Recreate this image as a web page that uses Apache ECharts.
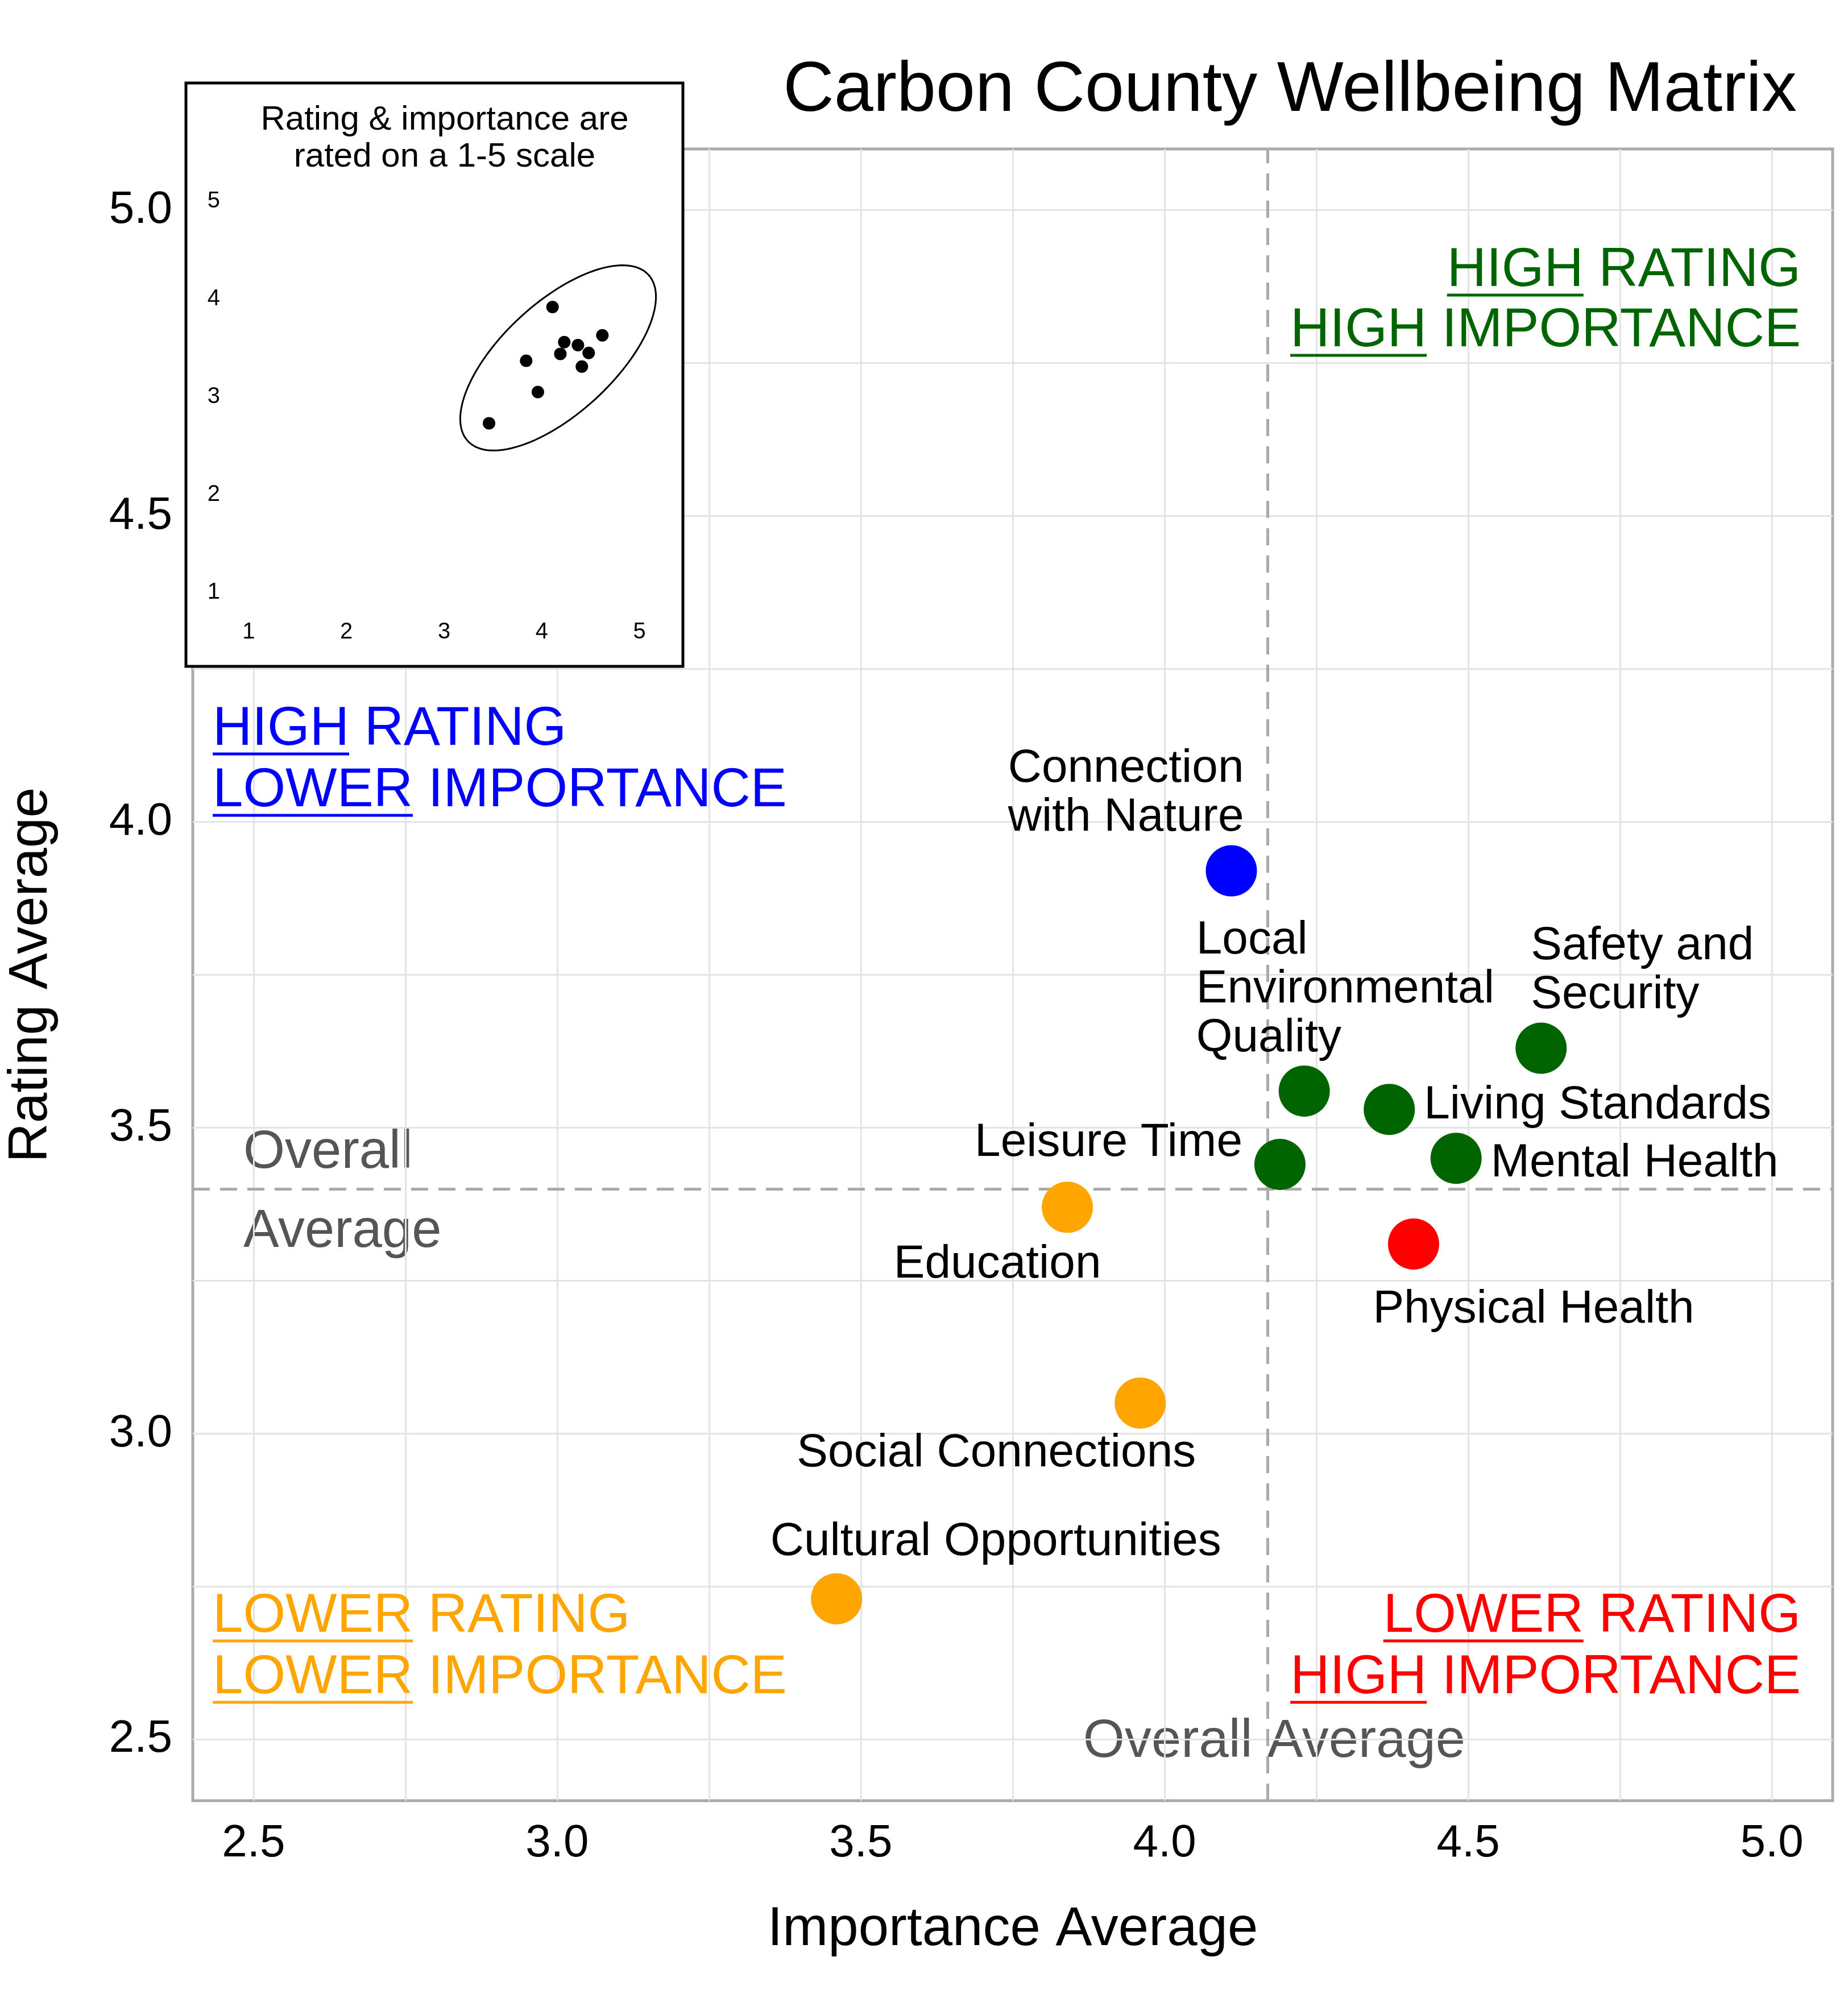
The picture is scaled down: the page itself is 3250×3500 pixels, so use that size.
<!DOCTYPE html>
<html><head><meta charset="utf-8">
<script src="https://cdn.jsdelivr.net/npm/echarts@6/dist/echarts.min.js"></script>
<style>html,body{margin:0;padding:0;background:#fff}#c{width:3250px;height:3500px}</style>
</head><body><div id="c"></div>
<script>
const names = ['Connection\nwith Nature','Local\nEnvironmental\nQuality','Leisure Time','Safety and\nSecurity','Living Standards','Mental Health','Physical Health','Education','Social Connections','Cultural Opportunities'];
const importance = [4.11,4.23,4.19,4.62,4.37,4.48,4.41,3.84,3.96,3.46];
const rating = [3.92,3.56,3.44,3.63,3.53,3.45,3.31,3.37,3.05,2.73];
const mainTicks = [2.5,3.0,3.5,4.0,4.5,5.0];
const mainGridLines = [2.5,2.75,3.0,3.25,3.5,3.75,4.0,4.25,4.5,4.75,5.0];
const insetTicks = [1,2,3,4,5];
const insetGridLines = [1,1.5,2,2.5,3,3.5,4,4.5,5];

const FONT = 'Liberation Sans, Arial, Helvetica, sans-serif';
const labelStyle = {
  'Connection\nwith Nature': {position:'top', align:'right', offset:[22,0]},
  'Local\nEnvironmental\nQuality': {position:'top', align:'left', offset:[-190,0]},
  'Leisure Time': {position:'left', align:'right', offset:[-16,-38]},
  'Safety and\nSecurity': {position:'top', align:'left', offset:[-18,0]},
  'Living Standards': {position:'right', align:'left', offset:[11,-7]},
  'Mental Health': {position:'right', align:'left', offset:[11,9]},
  'Physical Health': {position:'bottom', align:'center', offset:[211,22]},
  'Education': {position:'bottom', align:'center', offset:[-123,8]},
  'Social Connections': {position:'bottom', align:'center', offset:[-253,-4]},
  'Cultural Opportunities': {position:'top', align:'center', offset:[280,-7]}
};
const mean = a => a.reduce((s,v)=>s+v,0)/a.length;
const avgX = mean(importance), avgY = mean(rating);
const GREEN='#006400', BLUE='#0000ff', ORANGE='#ffa500', RED='#ff0000';
function quadColor(x,y){ if(x>=avgX) return y>=avgY?GREEN:RED; return y>=avgY?BLUE:ORANGE; }

const mainData = names.map((n,i)=>({
  value:[importance[i], rating[i]], name:n,
  itemStyle:{color:quadColor(importance[i],rating[i]),opacity:1},
  label:Object.assign({show:true, formatter:n, fontSize:82, color:'#000', fontFamily:FONT, lineHeight:86}, labelStyle[n])
}));

const n = importance.length;
let sxx=0,syy=0,sxy=0;
for(let i=0;i<n;i++){const dx=importance[i]-avgX, dy=rating[i]-avgY; sxx+=dx*dx; syy+=dy*dy; sxy+=dx*dy;}
sxx/=(n-1); syy/=(n-1); sxy/=(n-1);
const R = Math.sqrt(2*4.256);
const tr=(sxx+syy)/2, det=Math.sqrt(((sxx-syy)/2)**2+sxy*sxy);
const l1=tr+det, l2=tr-det, ang=0.5*Math.atan2(2*sxy, sxx-syy);
const ell=[];
for(let k=0;k<=120;k++){const t=k/120*2*Math.PI; const a=R*Math.sqrt(l1)*Math.cos(t), b=R*Math.sqrt(l2)*Math.sin(t);
  ell.push([avgX+a*Math.cos(ang)-b*Math.sin(ang), avgY+a*Math.sin(ang)+b*Math.cos(ang)]);}

const mc=document.createElement('canvas').getContext('2d');
const QF=96;
function tw(t){mc.font=QF+'px Liberation Sans'; return mc.measureText(t).width;}
const quads=[
 {first:'HIGH',rest:' RATING',color:GREEN,x:3167,y:477,align:'right'},
 {first:'HIGH',rest:' IMPORTANCE',color:GREEN,x:3167,y:583,align:'right'},
 {first:'HIGH',rest:' RATING',color:BLUE,x:374,y:1284,align:'left'},
 {first:'LOWER',rest:' IMPORTANCE',color:BLUE,x:374,y:1392,align:'left'},
 {first:'LOWER',rest:' RATING',color:ORANGE,x:374,y:2844,align:'left'},
 {first:'LOWER',rest:' IMPORTANCE',color:ORANGE,x:374,y:2952,align:'left'},
 {first:'LOWER',rest:' RATING',color:RED,x:3167,y:2844,align:'right'},
 {first:'HIGH',rest:' IMPORTANCE',color:RED,x:3167,y:2952,align:'right'}
];
const graphics=[];
quads.forEach(q=>{
  const full=q.first+q.rest, wf=tw(full), w1=tw(q.first);
  const x0 = q.align==='right'? q.x-wf : q.x;
  graphics.push({type:'text',x:x0,y:q.y,style:{text:full,fill:q.color,font:QF+'px '+FONT,textAlign:'left',textVerticalAlign:'middle'},z:10});
  graphics.push({type:'line',shape:{x1:x0,y1:q.y+42,x2:x0+w1,y2:q.y+42},style:{stroke:q.color,lineWidth:5},z:10});
});
graphics.push({type:'text',x:428,y:2028,style:{text:'Overall',fill:'#555',font:'94px '+FONT,textVerticalAlign:'middle'}});
graphics.push({type:'text',x:428,y:2167,style:{text:'Average',fill:'#555',font:'94px '+FONT,textVerticalAlign:'middle'}});
graphics.push({type:'text',x:2241,y:3064,style:{text:'Overall Average',fill:'#555',font:'94px '+FONT,textAlign:'center',textVerticalAlign:'middle'}});
graphics.push({type:'text',x:3160,y:161,style:{text:'Carbon County Wellbeing Matrix',fill:'#000',font:'124px '+FONT,textAlign:'right',textVerticalAlign:'middle'}});
graphics.push({type:'rect',zlevel:1,z:0,shape:{x:327,y:146,width:874,height:1026},style:{fill:'#fff',stroke:'#000',lineWidth:5}});
graphics.push({type:'text',zlevel:1,z:10,x:782,y:211,style:{text:'Rating & importance are',fill:'#000',font:'60px '+FONT,textAlign:'center',textVerticalAlign:'middle'}});
graphics.push({type:'text',zlevel:1,z:10,x:782,y:276,style:{text:'rated on a 1-5 scale',fill:'#000',font:'60px '+FONT,textAlign:'center',textVerticalAlign:'middle'}});

function gridMarks(list){return list.map(v=>({xAxis:v})).concat(list.map(v=>({yAxis:v})));}
const option={
  animation:false,
  backgroundColor:'#fff',
  graphic:graphics,
  grid:[
    {left:320,top:262,right:27,bottom:333,show:true,borderColor:'#aaa',borderWidth:5,backgroundColor:'transparent'},
    {left:403,top:320,width:756,height:756,show:false,zlevel:1,z:5}
  ],
  xAxis:[
    {gridIndex:0,type:'value',min:2.4,max:5.1,
     axisLine:{show:false},axisTick:{show:false},splitLine:{show:false},
     axisLabel:{customValues:mainTicks,formatter:v=>v.toFixed(1),fontSize:80,color:'#000',fontFamily:FONT,margin:36},
     name:'Importance Average',nameLocation:'middle',nameGap:180,nameTextStyle:{fontSize:96,color:'#000',fontFamily:FONT}},
    {gridIndex:1,type:'value',min:0.8,max:5.2,zlevel:1,z:5,
     axisLine:{show:false},axisTick:{show:false},splitLine:{show:false},
     axisLabel:{customValues:insetTicks,formatter:v=>String(v),fontSize:40,color:'#000',fontFamily:FONT,margin:16}}
  ],
  yAxis:[
    {gridIndex:0,type:'value',min:2.4,max:5.1,
     axisLine:{show:false},axisTick:{show:false},splitLine:{show:false},
     axisLabel:{customValues:mainTicks,formatter:v=>v.toFixed(1),fontSize:80,color:'#000',fontFamily:FONT,margin:36},
     name:'Rating Average',nameLocation:'middle',nameGap:235,nameTextStyle:{fontSize:96,color:'#000',fontFamily:FONT}},
    {gridIndex:1,type:'value',min:0.8,max:5.2,zlevel:1,z:5,
     axisLine:{show:false},axisTick:{show:false},splitLine:{show:false},
     axisLabel:{customValues:insetTicks,formatter:v=>String(v),fontSize:40,color:'#000',fontFamily:FONT,margin:16}}
  ],
  series:[
    {type:'scatter',xAxisIndex:0,yAxisIndex:0,data:[],z:1,silent:true,
     markLine:{silent:true,symbol:'none',label:{show:false},lineStyle:{type:'solid',color:'#e4e4e4',width:3},data:gridMarks(mainGridLines)}},
    {type:'scatter',xAxisIndex:0,yAxisIndex:0,symbolSize:90,data:mainData,z:5,
     markLine:{silent:true,symbol:'none',label:{show:false},lineStyle:{type:[30,18],color:'#aaa',width:5},
       data:[{xAxis:avgX},{yAxis:avgY}]}},
    {type:'scatter',xAxisIndex:1,yAxisIndex:1,zlevel:1,z:2,data:[],silent:true,
     markLine:{silent:true,symbol:'none',label:{show:false},lineStyle:{type:'solid',color:'#d0d0d0',width:3},data:gridMarks(insetGridLines)}},
    {type:'scatter',xAxisIndex:1,yAxisIndex:1,zlevel:1,z:6,symbolSize:22,itemStyle:{color:'#000',opacity:1},
     data:importance.map((v,i)=>[v,rating[i]]),
     markLine:{silent:true,symbol:'none',label:{show:false},lineStyle:{type:[12,8],color:'#999',width:3},
       data:[{xAxis:avgX},{yAxis:avgY}]}},
    {type:'line',xAxisIndex:1,yAxisIndex:1,zlevel:1,z:6,showSymbol:false,
     lineStyle:{color:'#000',width:3},data:ell}
  ]
};
echarts.init(document.getElementById('c')).setOption(option);
</script></body></html>
